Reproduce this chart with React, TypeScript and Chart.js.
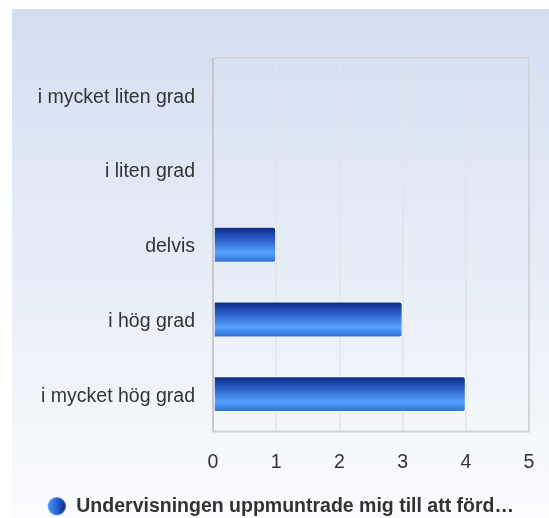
import React, { useEffect, useRef } from "react";
import { Chart, registerables } from "chart.js";

Chart.register(...registerables);

const categories = ["i mycket liten grad", "i liten grad", "delvis", "i hög grad", "i mycket hög grad"];
const values = [0, 0, 1, 3, 4];
const seriesLabel = "Undervisningen uppmuntrade mig till att förd…";
const xTicks = [0, 1, 2, 3, 4, 5];

const FONT = "'Liberation Sans', Arial, sans-serif";
const FONT_SIZE = 19.5;
const BAR_PCT = 0.48;

function makeLegendIcon(): HTMLCanvasElement {
  const c = document.createElement("canvas");
  c.width = 20;
  c.height = 20;
  const g = c.getContext("2d")!;
  const grad = g.createLinearGradient(1, 0, 19, 0);
  grad.addColorStop(0, "#4d95f5");
  grad.addColorStop(0.45, "#2a6ad8");
  grad.addColorStop(1, "#0b2a86");
  g.fillStyle = grad;
  g.beginPath();
  g.arc(10, 10, 9, 0, Math.PI * 2);
  g.fill();
  return c;
}

const bgPlugin = {
  id: "bgPanel",
  afterLayout(chart: any) {
    const lg = chart.legend;
    if (lg) {
      lg.left = 12;
      lg.right = chart.width;
      lg.width = chart.width - 12;
      lg.top += 8;
      lg.bottom += 8;
    }
  },
  beforeDraw(chart: any) {
    const { ctx, width, height } = chart;
    ctx.save();
    const grad = ctx.createLinearGradient(0, 9, 0, height);
    grad.addColorStop(0, "#d3dff0");
    grad.addColorStop(1, "#fafbfd");
    ctx.fillStyle = grad;
    ctx.fillRect(12, 9, width - 12, height - 9);
    ctx.restore();
  },
  afterDatasetsDraw(chart: any) {
    const { ctx, chartArea } = chart;
    ctx.save();
    ctx.strokeStyle = "#d2d4d8";
    ctx.lineWidth = 2;
    ctx.beginPath();
    ctx.moveTo(chartArea.left, chartArea.top);
    ctx.lineTo(chartArea.right, chartArea.top);
    ctx.lineTo(chartArea.right, chartArea.bottom);
    ctx.lineTo(chartArea.left, chartArea.bottom);
    ctx.stroke();
    ctx.strokeStyle = "#c8c8cc";
    ctx.beginPath();
    ctx.moveTo(chartArea.left, chartArea.top);
    ctx.lineTo(chartArea.left, chartArea.bottom);
    ctx.stroke();
    ctx.restore();
  },
};

export default function App() {
  const ref = useRef<HTMLCanvasElement>(null);
  useEffect(() => {
    document.body.style.margin = "0";
    const icon = makeLegendIcon();
    const chart = new Chart(ref.current!, {
      type: "bar",
      data: {
        labels: categories,
        datasets: [
          {
            label: seriesLabel,
            data: values,
            backgroundColor: (ctx: any) => {
              const chart = ctx.chart;
              const ys = chart.scales?.y;
              if (!ys || ctx.type !== "data") return "#2a6ad8";
              const c = ys.getPixelForValue(ctx.dataIndex);
              const h = (ys.height / categories.length) * BAR_PCT;
              if (!isFinite(c) || !isFinite(h) || h <= 0) return "#2a6ad8";
              const g = chart.ctx.createLinearGradient(0, c - h / 2, 0, c + h / 2);
              g.addColorStop(0, "#0a2783");
              g.addColorStop(0.35, "#2a5fc8");
              g.addColorStop(0.72, "#58a2ff");
              g.addColorStop(1, "#2b6ad2");
              return g;
            },
            borderColor: "#ffffff",
            borderWidth: 1,
            borderSkipped: false,
            borderRadius: { topLeft: 0, bottomLeft: 0, topRight: 3, bottomRight: 3 },
            categoryPercentage: 1,
            barPercentage: BAR_PCT,
          },
        ],
      },
      options: {
        indexAxis: "y",
        animation: false,
        responsive: false,
        layout: { padding: { left: 12, top: 58, right: 20, bottom: 0 } },
        scales: {
          x: {
            min: 0,
            max: 5,
            afterBuildTicks: (s: any) => {
              s.ticks = xTicks.map((v) => ({ value: v }));
            },
            afterFit: (s: any) => {
              s.height = 55;
              s.paddingLeft = 0;
              s.paddingRight = 0;
            },
            grid: { color: "#e2e4e8", lineWidth: 1.5, drawTicks: false },
            border: { display: false },
            ticks: { color: "#333333", font: { family: FONT, size: FONT_SIZE }, padding: 19 },
          },
          y: {
            afterFit: (s: any) => {
              s.width = 201;
            },
            grid: { display: false, drawTicks: false },
            border: { display: false },
            ticks: { color: "#333333", font: { family: FONT, size: FONT_SIZE }, padding: 18, labelOffset: 2 },
          },
        },
        plugins: {
          legend: {
            position: "bottom",
            labels: {
              usePointStyle: true,
              pointStyle: icon,
              color: "#333333",
              font: { family: FONT, size: FONT_SIZE, weight: "bold" },
              padding: 2,
            },
          },
          tooltip: { enabled: false },
        },
      } as any,
      plugins: [bgPlugin],
    });
    return () => chart.destroy();
  }, []);
  return <canvas ref={ref} width={549} height={518} style={{ display: "block" }} />;
}
